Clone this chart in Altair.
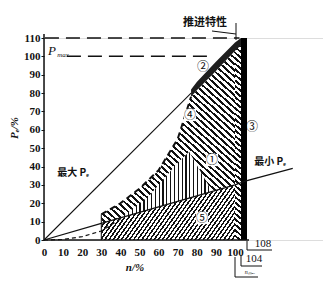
import math
import altair as alt
import pandas as pd

# ---------------- data ----------------
n_ticks = [0, 10, 20, 30, 40, 50, 60, 70, 80, 90, 100]
p_ticks = [0, 10, 20, 30, 40, 50, 60, 70, 80, 90, 100, 110]

# "最小 Pe" straight line
min_n = [0, 30, 100, 108, 132]
min_p = [0, 9, 30, 32.4, 39]

# "最大 Pe" straight line
max_n = [0, 77]
max_p = [0, 80]

# dashed propeller curve near the origin
prop_n = [0, 10, 20, 30, 41]
prop_p = [0, 0.3, 1.8, 4.9, 12]

# region 1 (upper envelope / lower = min line)
r1_n = [30, 40, 50, 60, 70, 77, 80, 90, 100]
r1_top = [14, 20, 28, 38, 55, 78, 81.5, 92, 103]
r1_bot = [9, 12, 15, 18, 21, 23.1, 24, 27, 30]

# region 5 (below min line)
r5_n = [30, 100]
r5_top = [9, 30]
r5_bot = [0, 0]

# wedge with vertical hatching
w_n = [40, 55, 70, 76, 88]
w_top = [12, 24, 42, 48, 26.4]
w_bot = [12, 16.5, 21, 22.8, 26.4]

# region 2 (overload band)
b_n = [77, 80, 90, 100, 104]
b_bot = [78, 81.5, 92, 103, 106]
b_top = [82, 86, 97, 107.5, 110]

# region 3 strip and black bar
strip_n, strip_n2, strip_p = [100], [104], [106]
bar_n, bar_n2, bar_p = [104], [108], [110]

# dashed horizontal reference lines
h110_n = [0.5, 103]
h100_n = [12, 88]

# ---------------- layout / style ----------------
W, H = 279, 202
PX = 1.91
PY = H / 110.0
FONT = "Liberation Serif"
CJK = "Noto Sans CJK SC"

xs = alt.Scale(domain=[0, 100, 108, 140], range=[0, 191, 203, 264], nice=False)
ys = alt.Scale(domain=[0, 110], nice=False, zero=False)
xa = alt.Axis(values=n_ticks, title=None, domain=False, ticks=False, grid=False,
              labelFont=FONT, labelFontWeight="bold", labelFontSize=11,
              labelPadding=6, labelColor="#111", labelFlush=False)
ya = alt.Axis(values=p_ticks, title=None, domain=False, ticks=True, tickSize=3,
              tickColor="#111", grid=False, labelFont=FONT, labelFontWeight="bold",
              labelFontSize=11, labelPadding=1, labelColor="#111")


def X(f):
    return alt.X(f, type="quantitative", scale=xs, axis=xa)


def Y(f):
    return alt.Y(f, type="quantitative", scale=ys, axis=ya)


def hatch(w, h, angle_deg, period, frac, dark="#111111", light="#ffffff"):
    a = math.radians(angle_deg)
    dx, dy = math.cos(a), -math.sin(a)
    nx, ny = -dy, dx
    span = abs(nx) * w + abs(ny) * h
    denom = nx * nx * w * w + ny * ny * h * h
    s = span / denom
    du, dv = s * nx * w, s * ny * h
    x1 = 0.0 if nx >= 0 else 1.0
    y1 = 0.0 if ny >= 0 else 1.0
    k = max(1, int(round(span / period)))
    stops = []
    for i in range(k):
        o0, o1, o2 = i / k, (i + frac) / k, (i + 1) / k
        stops += [alt.GradientStop(color=dark, offset=o0),
                  alt.GradientStop(color=dark, offset=o1),
                  alt.GradientStop(color=light, offset=o1),
                  alt.GradientStop(color=light, offset=o2)]
    return alt.LinearGradient(gradient="linear", stops=stops,
                              x1=x1, y1=y1, x2=x1 + du, y2=y1 + dv)


dummy = pd.DataFrame({"a": [0]})


def label(txt, x, y, **kw):
    return alt.Chart(dummy).mark_text(text=txt, **kw).encode(x=alt.value(x), y=alt.value(y))


def seg(x1, y1, x2, y2, **kw):
    return alt.Chart(dummy).mark_rule(color="#111", **kw).encode(
        x=alt.value(x1), y=alt.value(y1), x2=alt.value(x2), y2=alt.value(y2))


# ---------------- layers ----------------
r1 = alt.Chart(pd.DataFrame({"n": r1_n, "top": r1_top, "bot": r1_bot})).mark_area(
    color=hatch(70 * PX, 94 * PY, -42, 4.6, 0.42), stroke=None
).encode(x=X("n"), y=Y("top"), y2="bot")

r5 = alt.Chart(pd.DataFrame({"n": r5_n, "top": r5_top, "bot": r5_bot})).mark_area(
    color=hatch(70 * PX, 30 * PY, 55, 3.4, 0.45)
).encode(x=X("n"), y=Y("top"), y2="bot")

wedge = alt.Chart(pd.DataFrame({"n": w_n, "top": w_top, "bot": w_bot})).mark_area(
    color=hatch(48 * PX, 36 * PY, 90, 3.8, 0.32)
).encode(x=X("n"), y=Y("top"), y2="bot")

strip = alt.Chart(pd.DataFrame({"n": strip_n, "n2": strip_n2, "p": strip_p, "p0": [0]})).mark_rect(
    color=hatch(6, 106 * PY, -40, 4.2, 0.45)
).encode(x=X("n"), x2="n2", y=Y("p"), y2="p0")

band = alt.Chart(pd.DataFrame({"n": b_n, "top": b_top, "bot": b_bot})).mark_area(
    color="#1e1e1e"
).encode(x=X("n"), y=Y("top"), y2="bot")

bar = alt.Chart(pd.DataFrame({"n": bar_n, "n2": bar_n2, "p": bar_p, "p0": [0]})).mark_rect(
    color="#000000"
).encode(x=X("n"), x2="n2", y=Y("p"), y2="p0")

min_line = alt.Chart(pd.DataFrame({"n": min_n, "p": min_p})).mark_line(
    color="#111", strokeWidth=1.3
).encode(x=X("n"), y=Y("p"))

max_line = alt.Chart(pd.DataFrame({"n": max_n, "p": max_p})).mark_line(
    color="#111", strokeWidth=1.1
).encode(x=X("n"), y=Y("p"))

prop_line = alt.Chart(pd.DataFrame({"n": prop_n, "p": prop_p})).mark_line(
    color="#111", strokeWidth=1.2, strokeDash=[4, 3]
).encode(x=X("n"), y=Y("p"))

outer_dash = alt.Chart(pd.DataFrame({"n": r1_n[:6], "p": r1_top[:6]})).mark_line(
    color="#111", strokeWidth=2, strokeDash=[6, 4]
).encode(x=X("n"), y=Y("p"))

left_edge = alt.Chart(pd.DataFrame({"n": [30], "p": [14], "p0": [0]})).mark_rule(
    color="#111", strokeWidth=1
).encode(x=X("n"), y=Y("p"), y2="p0")

h110 = alt.Chart(pd.DataFrame({"n": h110_n, "p": [110, 110]})).mark_line(
    color="#111", strokeWidth=1.5, strokeDash=[14, 7]
).encode(x=X("n"), y=Y("p"))

h100 = alt.Chart(pd.DataFrame({"n": h100_n, "p": [100, 100]})).mark_line(
    color="#111", strokeWidth=1.5, strokeDash=[14, 7]
).encode(x=X("n"), y=Y("p"))

# axis lines
y_axis_line = seg(0, -4, 0, H, strokeWidth=1.5)
x_axis_line = seg(0, H, 205, H, strokeWidth=1.5)

# white boxes behind circled numbers
boxes = [
    alt.Chart(dummy).mark_square(size=150, color="white", opacity=1).encode(
        x=alt.value(x), y=alt.value(y))
    for (x, y) in [(168, 122), (146, 77), (158, 180)]
]

circ = dict(font=CJK, fontSize=12, color="#111")
texts = [
    label("①", 168, 122, **circ),
    label("②", 159, 29, **circ),
    label("③", 208, 89, **circ),
    label("④", 146, 77, **circ),
    label("⑤", 158, 180, **circ),
    label("推进特性", 161, -15, font=CJK, fontSize=11, fontWeight="bold", color="#111"),
    label("最大 Pₑ", 29, 135, font=CJK, fontSize=10, fontWeight="bold", color="#111"),
    label("最小 Pₑ", 226, 124, font=CJK, fontSize=10, fontWeight="bold", color="#111"),
    label("P", 8, 13, font=FONT, fontSize=13, fontStyle="italic", color="#111"),
    label("max", 19, 17, font=FONT, fontSize=7, fontStyle="italic", color="#111"),
    label("n/%", 91, 230, font=FONT, fontSize=11, fontStyle="italic", fontWeight="bold", color="#111"),
    label("Pₑ/%", -29, 90, font=FONT, fontSize=11, fontStyle="italic", fontWeight="bold",
          angle=270, color="#111"),
    label("108", 219, 206, font=FONT, fontSize=11, color="#111"),
    label("104", 210, 221, font=FONT, fontSize=11, color="#111"),
    label("nₘₐₓ", 206, 234, font=FONT, fontSize=6, fontStyle="italic", color="#111"),
]

brackets = [
    seg(191, 219, 191, 239), seg(191, 239, 214, 239),
    seg(197, 217, 197, 228), seg(197, 228, 218, 228),
    seg(203, 203, 203, 212), seg(203, 212, 228, 212),
    seg(168, -7, 192, -4), seg(192, -15, 192, 2),
]

chart = alt.layer(
    r1, r5, wedge, strip, band, bar,
    min_line, max_line, prop_line, outer_dash, left_edge, h110, h100,
    y_axis_line, x_axis_line,
    *boxes, *texts, *brackets
).properties(
    width=W, height=H,
    autosize=alt.AutoSizeParams(type="none"),
    padding={"left": 44, "top": 38, "right": 0, "bottom": 48},
).configure_view(stroke=None).configure(background="white")

chart.save("out.html", embed_options={"renderer": "svg", "actions": False})
